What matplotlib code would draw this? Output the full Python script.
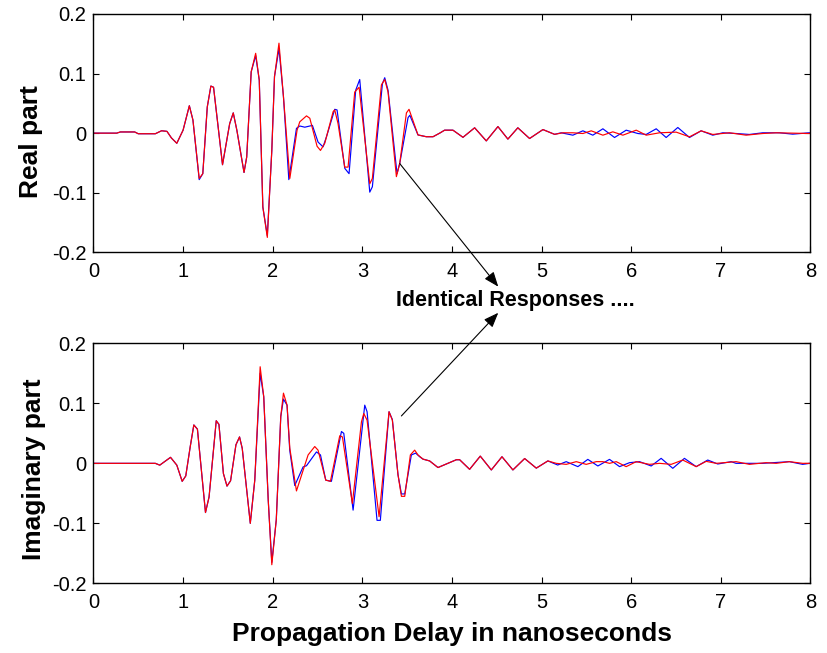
import matplotlib
matplotlib.use("Agg")
import matplotlib.pyplot as plt

plt.rcParams['font.family'] = ['Liberation Sans', 'DejaVu Sans']

# Real part: time (ns) and amplitude, blue trace
re_blue_t = [0, 0.26, 0.30, 0.46, 0.50, 0.69, 0.76, 0.82, 0.87, 0.93, 1.00, 1.07, 1.11,
             1.18, 1.22, 1.27, 1.31, 1.34, 1.44, 1.52, 1.56, 1.60, 1.68, 1.71, 1.76, 1.81,
             1.85, 1.89, 1.94, 1.99, 2.02, 2.07, 2.12, 2.18, 2.265, 2.302, 2.358, 2.443,
             2.506, 2.562, 2.600, 2.692, 2.718, 2.804, 2.852, 2.926, 2.971, 3.083, 3.112,
             3.224, 3.250, 3.287, 3.387, 3.417, 3.510, 3.530, 3.621, 3.714, 3.789, 3.863,
             3.918, 4.011, 4.123, 4.253, 4.383, 4.513, 4.624, 4.735, 4.866, 5.015, 5.145,
             5.219, 5.349, 5.461, 5.572, 5.684, 5.814, 5.944, 6.074, 6.167, 6.279, 6.390,
             6.520, 6.650, 6.780, 6.910, 7.022, 7.170, 7.319, 7.467, 7.654, 7.802, 7.988, 8.0]
re_blue_v = [0, 0, 0.002, 0.002, -0.001, -0.001, 0.004, 0.003, -0.008, -0.017, 0.005, 0.046, 0.022,
             -0.078, -0.068, 0.044, 0.079, 0.077, -0.053, 0.016, 0.034, 0.005, -0.066, -0.040, 0.103, 0.130,
             0.089, -0.124, -0.172, -0.029, 0.095, 0.142, 0.061, -0.078, 0.008, 0.012, 0.010, 0.013,
             -0.015, -0.023, -0.006, 0.040, 0.039, -0.059, -0.068, 0.072, 0.090, -0.099, -0.090,
             0.083, 0.093, 0.072, -0.068, -0.051, 0.026, 0.030, -0.003, -0.006, -0.006, 0.0,
             0.005, 0.005, -0.007, 0.009, -0.013, 0.011, -0.010, 0.009, -0.009, 0.006, -0.002,
             0.0006, -0.0034, 0.0039, -0.0034, 0.0073, -0.0073, 0.005, -0.0006, -0.0022, 0.0073, -0.0073,
             0.0095, -0.0073, 0.0039, -0.0034, 0.0006, -0.0006, -0.0022, 0.0006, 0.0006, -0.0017, 0.0006, 0.0]

# Real part, red trace
re_red_t = [0, 0.26, 0.30, 0.46, 0.50, 0.69, 0.76, 0.82, 0.87, 0.93, 1.00, 1.07, 1.11,
            1.18, 1.22, 1.27, 1.31, 1.34, 1.44, 1.52, 1.56, 1.60, 1.68, 1.71, 1.76, 1.81,
            1.85, 1.89, 1.94, 1.99, 2.02, 2.07, 2.12, 2.191, 2.272, 2.302, 2.377, 2.414,
            2.495, 2.533, 2.581, 2.674, 2.692, 2.729, 2.804, 2.841, 2.915, 2.964, 3.083,
            3.112, 3.213, 3.250, 3.287, 3.380, 3.417, 3.492, 3.521, 3.621, 3.714, 3.789,
            3.863, 3.918, 4.011, 4.123, 4.253, 4.383, 4.513, 4.624, 4.735, 4.866, 5.015,
            5.145, 5.238, 5.349, 5.461, 5.554, 5.684, 5.795, 5.907, 6.056, 6.167, 6.316,
            6.502, 6.650, 6.780, 6.910, 7.096, 7.282, 7.467, 7.617, 7.988, 8.0]
re_red_v = [0, 0, 0.002, 0.002, -0.001, -0.001, 0.004, 0.003, -0.008, -0.017, 0.005, 0.046, 0.022,
            -0.076, -0.068, 0.044, 0.079, 0.077, -0.053, 0.016, 0.034, 0.005, -0.066, -0.040, 0.103, 0.134,
            0.089, -0.124, -0.175, -0.029, 0.095, 0.151, 0.061, -0.076, 0.005, 0.019, 0.029, 0.025,
            -0.022, -0.029, -0.017, 0.036, 0.039, 0.016, -0.057, -0.057, 0.069, 0.077, -0.085,
            -0.076, 0.081, 0.090, 0.069, -0.073, -0.051, 0.034, 0.040, -0.003, -0.006, -0.006,
            0.0, 0.005, 0.005, -0.007, 0.009, -0.013, 0.011, -0.010, 0.009, -0.009, 0.006,
            -0.002, 0.0006, 0.0006, -0.0006, 0.0039, -0.0034, 0.0022, -0.0034, 0.005, -0.0034, 0.0006,
            0.0017, -0.0062, 0.0039, -0.0022, 0.0006, -0.0034, -0.0006, 0.0006, -0.0006, 0.0]

# Imaginary part, blue trace
im_blue_t = [0, 0.69, 0.74, 0.86, 0.93, 0.99, 1.03, 1.08, 1.12, 1.16, 1.25, 1.29, 1.37,
             1.40, 1.45, 1.49, 1.53, 1.59, 1.63, 1.66, 1.75, 1.80, 1.86, 1.90, 1.95, 1.99,
             2.04, 2.09, 2.12, 2.16, 2.19, 2.246, 2.339, 2.377, 2.488, 2.533, 2.592, 2.655,
             2.767, 2.793, 2.897, 3.027, 3.053, 3.164, 3.201, 3.298, 3.335, 3.398, 3.436,
             3.473, 3.547, 3.595, 3.640, 3.677, 3.751, 3.844, 4.049, 4.086, 4.197, 4.316,
             4.439, 4.558, 4.680, 4.811, 4.941, 5.070, 5.18, 5.275, 5.405, 5.516, 5.628,
             5.758, 5.870, 5.981, 6.093, 6.223, 6.334, 6.464, 6.594, 6.725, 6.854, 6.966,
             7.115, 7.170, 7.319, 7.467, 7.765, 7.913, 7.988, 8.0]
im_blue_v = [0, 0, -0.003, 0.010, -0.003, -0.030, -0.021, 0.028, 0.064, 0.057, -0.082, -0.056, 0.071,
             0.065, -0.017, -0.038, -0.029, 0.031, 0.044, 0.025, -0.100, -0.028, 0.150, 0.111, -0.061, -0.165,
             -0.094, 0.078, 0.107, 0.097, 0.022, -0.037, -0.006, -0.004, 0.019, 0.014, -0.028, -0.030,
             0.053, 0.050, -0.078, 0.097, 0.086, -0.095, -0.095, 0.086, 0.073, -0.019, -0.051,
             -0.051, 0.014, 0.017, 0.011, 0.007, 0.004, -0.007, 0.006, 0.006, -0.010, 0.012,
             -0.011, 0.011, -0.011, 0.008, -0.008, 0.004, -0.0028, 0.0028, -0.0055, 0.0066, -0.0044,
             0.0066, -0.0055, 0.0011, 0.0028, -0.0044, 0.0083, -0.0083, 0.0083, -0.0055, 0.0055, -0.0011,
             0.0028, 0.0, 0.0, 0.0, 0.0028, -0.0017, 0.0, 0.0]

# Imaginary part, red trace
im_red_t = [0, 0.69, 0.74, 0.86, 0.93, 0.99, 1.03, 1.08, 1.12, 1.16, 1.25, 1.29, 1.37,
            1.40, 1.45, 1.49, 1.53, 1.59, 1.63, 1.66, 1.75, 1.80, 1.86, 1.90, 1.95, 1.99,
            2.04, 2.09, 2.12, 2.16, 2.191, 2.265, 2.395, 2.469, 2.506, 2.592, 2.644, 2.748,
            2.778, 2.889, 2.990, 3.016, 3.053, 3.187, 3.298, 3.335, 3.398, 3.436, 3.473,
            3.536, 3.584, 3.621, 3.677, 3.751, 3.844, 4.049, 4.086, 4.197, 4.316, 4.439,
            4.558, 4.680, 4.811, 4.941, 5.070, 5.164, 5.275, 5.387, 5.498, 5.610, 5.684,
            5.758, 5.833, 5.944, 6.056, 6.204, 6.316, 6.446, 6.575, 6.725, 6.836, 6.948,
            7.170, 7.319, 7.505, 7.617, 7.765, 7.913, 7.988, 8.0]
im_red_v = [0, 0, -0.003, 0.010, -0.003, -0.030, -0.021, 0.028, 0.064, 0.057, -0.082, -0.056, 0.071,
            0.065, -0.017, -0.038, -0.029, 0.031, 0.044, 0.025, -0.100, -0.028, 0.161, 0.111, -0.061, -0.169,
            -0.094, 0.078, 0.117, 0.097, 0.025, -0.046, 0.014, 0.028, 0.022, -0.028, -0.030, 0.046,
            0.044, -0.067, 0.069, 0.083, 0.072, -0.089, 0.086, 0.072, -0.019, -0.055, -0.055,
            0.014, 0.022, 0.014, 0.007, 0.004, -0.007, 0.006, 0.006, -0.010, 0.012, -0.011,
            0.011, -0.011, 0.008, -0.008, 0.004, 0.0, -0.0017, 0.0028, -0.0017, 0.0028, 0.0028,
            0.0, 0.0028, -0.0055, 0.0028, -0.0017, 0.0, -0.0017, 0.0055, -0.0055, 0.0033, 0.0,
            0.0028, -0.0017, 0.0011, 0.0, 0.0028, 0.0, 0.0, 0.0]

xticks = [0, 1, 2, 3, 4, 5, 6, 7, 8]
yticks = [-0.2, -0.1, 0, 0.1, 0.2]
ytick_labels = ['-0.2', '-0.1', '0', '0.1', '0.2']

fig = plt.figure(figsize=(8.27, 6.53), dpi=100)
ax1 = fig.add_axes([0.113, 0.6136, 0.867, 0.365])
ax2 = fig.add_axes([0.113, 0.1067, 0.867, 0.3675])

ax1.plot(re_blue_t, re_blue_v, color='blue', lw=0.85)
ax1.plot(re_red_t, re_red_v, color='red', lw=0.85)
ax2.plot(im_blue_t, im_blue_v, color='blue', lw=0.85)
ax2.plot(im_red_t, im_red_v, color='red', lw=0.85)

for ax in (ax1, ax2):
    ax.set_xlim(0, 8)
    ax.set_ylim(-0.2, 0.2)
    ax.set_xticks(xticks)
    ax.set_xticklabels([str(x) for x in xticks])
    ax.set_yticks(yticks)
    ax.set_yticklabels(ytick_labels)
    ax.tick_params(direction='in', top=True, right=True, length=4.5, width=0.8,
                   labelsize=14.5, color='black')
    ax.tick_params(axis='x', pad=7)
    ax.tick_params(axis='y', pad=5)
    for sp in ax.spines.values():
        sp.set_linewidth(1.0)

ax1.set_ylabel('Real part', fontsize=19, fontweight='bold')
ax1.yaxis.set_label_coords(-0.070, 0.466)
ax2.set_ylabel('Imaginary part', fontsize=19, fontweight='bold')
ax2.yaxis.set_label_coords(-0.066, 0.476)
ax2.set_xlabel('Propagation Delay in nanoseconds', fontsize=19, fontweight='bold', labelpad=7)

# Annotation pointing at both panels
fig.text(0.6233, 0.540, 'Identical Responses ....', fontsize=15.5, fontweight='bold',
         ha='center', va='center')
arrow = dict(arrowstyle='-|>,head_length=0.9,head_width=0.35', color='black', lw=0.8,
             shrinkA=0, shrinkB=0)
ax1.annotate('', xy=(0.6025, 0.561), xycoords='figure fraction',
             xytext=(3.417, -0.051), textcoords='data', arrowprops=arrow,
             annotation_clip=False)
ax2.annotate('', xy=(0.6025, 0.521), xycoords='figure fraction',
             xytext=(3.436, 0.079), textcoords='data', arrowprops=arrow,
             annotation_clip=False)

fig.savefig('out.png', dpi=100)
